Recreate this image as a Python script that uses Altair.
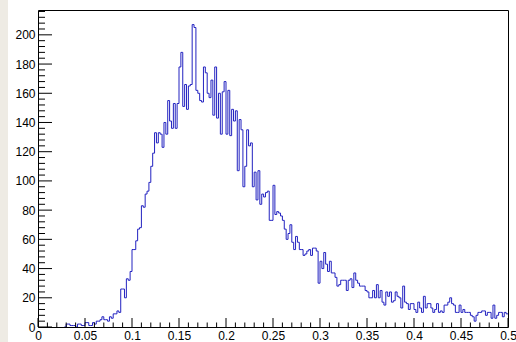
import altair as alt
import pandas as pd

# ---------------- data ----------------
x_lo = 0.0
x_hi = 0.5
counts = [
    0, 0, 0, 0, 0, 0, 0, 0, 0, 0,
    0, 0, 0, 0, 0, 2, 2, 1, 1, 1,
    0, 2, 2, 1, 1, 3, 3, 1, 1, 3,
    2, 4, 4, 5, 7, 5, 5, 4, 7, 6,
    9, 9, 11, 10, 26, 26, 20, 33, 32, 38,
    53, 53, 59, 67, 68, 83, 82, 91, 93, 99,
    110, 119, 133, 126, 133, 132, 123, 140, 132, 155,
    141, 136, 153, 136, 153, 178, 188, 151, 166, 149,
    165, 166, 207, 205, 162, 160, 155, 154, 178, 174,
    160, 157, 169, 145, 178, 143, 160, 132, 161, 168,
    132, 162, 131, 149, 141, 148, 107, 142, 135, 96,
    110, 135, 124, 126, 96, 106, 87, 107, 84, 91,
    89, 92, 93, 73, 73, 97, 77, 79, 78, 76,
    73, 67, 60, 64, 70, 58, 53, 62, 58, 53,
    53, 49, 50, 52, 53, 49, 54, 54, 52, 30,
    45, 40, 51, 43, 38, 45, 37, 37, 34, 28,
    29, 32, 32, 32, 25, 32, 33, 27, 37, 32,
    30, 28, 28, 28, 25, 24, 20, 20, 25, 20,
    29, 20, 25, 17, 15, 24, 21, 24, 17, 18,
    24, 21, 20, 13, 28, 17, 16, 12, 16, 16,
    12, 10, 17, 13, 10, 21, 13, 16, 16, 13,
    10, 12, 16, 10, 11, 10, 15, 15, 17, 20,
    16, 15, 10, 10, 15, 10, 12, 10, 10, 10,
    8, 7, 4, 8, 10, 10, 11, 11, 8, 10,
    10, 6, 15, 6, 8, 10, 10, 7, 10, 9,
]
y_max = 217

x_major = [0, 0.05, 0.1, 0.15, 0.2, 0.25, 0.3, 0.35, 0.4, 0.45, 0.5]
x_minor = [round(i * 0.01, 2) for i in range(51) if i % 5 != 0]
y_major = [0, 20, 40, 60, 80, 100, 120, 140, 160, 180, 200]
y_minor = [v for v in range(0, 217, 4) if v % 20 != 0]

# ---------------- layout ----------------
W, H = 470, 317
LINE = "#2222c0"
FONT = "Liberation Sans"
FS = 12

n = len(counts)
edges = [x_lo + (x_hi - x_lo) * i / n for i in range(n + 1)]
first = next(i for i, c in enumerate(counts) if c > 0)
start = max(first - 1, 0)
hist_df = pd.DataFrame({"x": edges[start:], "y": counts[start:] + [counts[-1]]})

xs = alt.Scale(domain=[x_lo, x_hi], nice=False, zero=False)
ys = alt.Scale(domain=[0, y_max], nice=False)

x_axis = alt.Axis(
    values=x_major, format=".2~f", ticks=False, domain=False, grid=False,
    labelPadding=3, labelFont=FONT, labelFontSize=FS, labelColor="black",
    labelFlush=False, labelOverlap=False, title=None)
y_axis = alt.Axis(
    values=y_major, ticks=False, domain=False, grid=False,
    labelPadding=3, labelFont=FONT, labelFontSize=FS, labelColor="black",
    labelFlush=False, labelOverlap=False, title=None)

hist = alt.Chart(hist_df).mark_line(
    interpolate="step-after", color=LINE, strokeWidth=1, clip=True
).encode(
    x=alt.X("x:Q", scale=xs, axis=x_axis),
    y=alt.Y("y:Q", scale=ys, axis=y_axis),
)

xmaj = alt.Chart(pd.DataFrame({"x": x_major})).mark_rule(color="black", strokeWidth=1).encode(
    x=alt.X("x:Q", scale=xs, axis=x_axis), y=alt.value(H), y2=alt.value(H - 9))
xmin = alt.Chart(pd.DataFrame({"x": x_minor})).mark_rule(color="black", strokeWidth=1).encode(
    x=alt.X("x:Q", scale=xs, axis=x_axis), y=alt.value(H), y2=alt.value(H - 4.5))
ymaj = alt.Chart(pd.DataFrame({"y": y_major})).mark_rule(color="black", strokeWidth=1).encode(
    y=alt.Y("y:Q", scale=ys, axis=y_axis), x=alt.value(0), x2=alt.value(14))
ymin = alt.Chart(pd.DataFrame({"y": y_minor})).mark_rule(color="black", strokeWidth=1).encode(
    y=alt.Y("y:Q", scale=ys, axis=y_axis), x=alt.value(0), x2=alt.value(7))

strip = alt.Chart(pd.DataFrame({"a": [0]})).mark_rect(color="#eeebe4").encode(
    x=alt.value(-38), x2=alt.value(-30), y=alt.value(-10), y2=alt.value(H + 15))

chart = alt.layer(strip, hist, xmin, xmaj, ymin, ymaj).properties(
    width=W, height=H,
    autosize=alt.AutoSizeParams(type="none"),
    padding={"left": 38, "top": 10, "right": 8, "bottom": 15},
    background="white",
).configure_view(stroke="black", strokeWidth=1, fill="white")

chart.save("out.html", embed_options={"renderer": "svg", "actions": False})
